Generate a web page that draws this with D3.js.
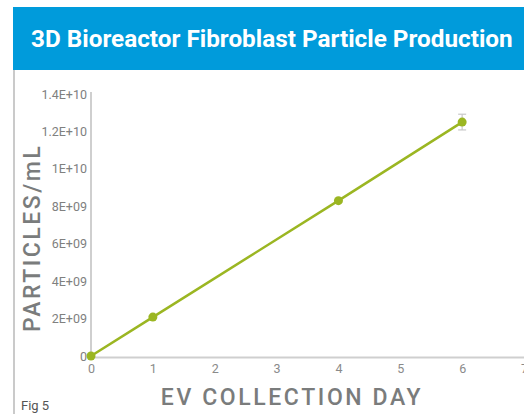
<!DOCTYPE html>
<html>
<head>
<meta charset="utf-8">
<script src="https://cdn.jsdelivr.net/npm/d3@7"></script>
<style>
  html, body { margin: 0; padding: 0; background: #fff; }
  svg { display: block; font-family: Roboto, 'Open Sans', sans-serif; }
</style>
</head>
<body>
<svg id="chart" width="524" height="414"></svg>
<script>
'use strict';

/* ── data ────────────────────────────────── */
const days      = [0, 1, 4, 6];
const particles = [0, 2.08e9, 8.3e9, 1.25e10];
const errors    = [0, 0, 0, 0.42e9];
const xTicks    = [0, 1, 2, 3, 4, 5, 6, 7];
const yTicks    = [0, 2e9, 4e9, 6e9, 8e9, 1e10, 1.2e10, 1.4e10];
const yTickLabels = ['0', '2E+09', '4E+09', '6E+09', '8E+09', '1E+10', '1.2E+10', '1.4E+10'];

const GREEN = '#9bb622';
const AXIS  = '#cfcfcf';

const svg = d3.select('#chart');

/* ── header band ─────────────────────────── */
svg.append('rect')
  .attr('x', 13).attr('y', 7).attr('width', 511).attr('height', 63)
  .attr('fill', '#009bdb');
svg.append('text')
  .attr('x', 31).attr('y', 47)
  .attr('fill', '#fff')
  .attr('font-size', '24.3px')
  .attr('font-weight', 700)
  .text('3D Bioreactor Fibroblast Particle Production');

// left page border
svg.append('line')
  .attr('x1', 14).attr('x2', 14).attr('y1', 70).attr('y2', 414)
  .attr('stroke', '#b8b8b8').attr('stroke-width', 1.5);

/* ── scales ──────────────────────────────── */
const x = d3.scaleLinear().domain([0, 7]).range([91, 524]);
const y = d3.scaleLinear().domain([0, 1.4e10]).range([356, 94]);

/* ── axes ────────────────────────────────── */
const yAxis = svg.append('g')
  .attr('transform', `translate(${x(0)},0)`)
  .call(d3.axisLeft(y).tickValues(yTicks).tickSize(0).tickPadding(4)
    .tickFormat((d, i) => yTickLabels[i]));
yAxis.select('.domain').attr('stroke', AXIS).attr('stroke-width', 2)
  .attr('d', `M0,${y(0)}V${y(1.4e10) - 2}`);
yAxis.selectAll('text').attr('fill', '#808080').attr('font-size', '12.5px')
  .attr('font-family', 'Roboto, sans-serif');

const xAxis = svg.append('g')
  .attr('transform', `translate(0,${y(0) + 1})`)
  .call(d3.axisBottom(x).tickValues(xTicks).tickSize(0).tickPadding(7)
    .tickFormat(d3.format('d')));
xAxis.select('.domain').attr('stroke', AXIS).attr('stroke-width', 2);
xAxis.selectAll('text').attr('fill', '#8a8a8a').attr('font-size', '12.5px')
  .attr('font-family', 'Roboto, sans-serif');

/* ── axis titles ─────────────────────────── */
svg.append('text')
  .attr('transform', `translate(40,${(y(0) + y(1.4e10)) / 2 + 13}) rotate(-90)`)
  .attr('text-anchor', 'middle')
  .attr('fill', '#7a7c7c')
  .attr('font-size', '23px')
  .attr('font-weight', 500)
  .attr('letter-spacing', '2.5px')
  .text('PARTICLES/mL');

svg.append('text')
  .attr('x', 292).attr('y', 405)
  .attr('text-anchor', 'middle')
  .attr('fill', '#7a7c7c')
  .attr('font-size', '23px')
  .attr('font-weight', 500)
  .attr('letter-spacing', '2.6px')
  .text('EV COLLECTION DAY');

svg.append('text')
  .attr('x', 21).attr('y', 410)
  .attr('fill', '#555')
  .attr('font-size', '13px')
  .text('Fig 5');

/* ── series ──────────────────────────────── */
const pts = days.map((d, i) => ({ d, v: particles[i], e: errors[i] }));

// error bars
const eb = svg.append('g').selectAll('g').data(pts.filter(p => p.e > 0)).join('g')
  .attr('stroke', '#c8c8c8').attr('stroke-width', 1.2);
eb.append('line')
  .attr('x1', p => x(p.d)).attr('x2', p => x(p.d))
  .attr('y1', p => y(p.v + p.e)).attr('y2', p => y(p.v - p.e));
eb.append('line')
  .attr('x1', p => x(p.d) - 4).attr('x2', p => x(p.d) + 4)
  .attr('y1', p => y(p.v + p.e)).attr('y2', p => y(p.v + p.e));
eb.append('line')
  .attr('x1', p => x(p.d) - 4).attr('x2', p => x(p.d) + 4)
  .attr('y1', p => y(p.v - p.e)).attr('y2', p => y(p.v - p.e));

svg.append('path')
  .datum(pts)
  .attr('fill', 'none')
  .attr('stroke', GREEN)
  .attr('stroke-width', 2.5)
  .attr('d', d3.line().x(p => x(p.d)).y(p => y(p.v)));

svg.append('g').selectAll('circle').data(pts).join('circle')
  .attr('cx', p => x(p.d)).attr('cy', p => y(p.v))
  .attr('r', 4.5)
  .attr('fill', GREEN);
</script>
</body>
</html>
